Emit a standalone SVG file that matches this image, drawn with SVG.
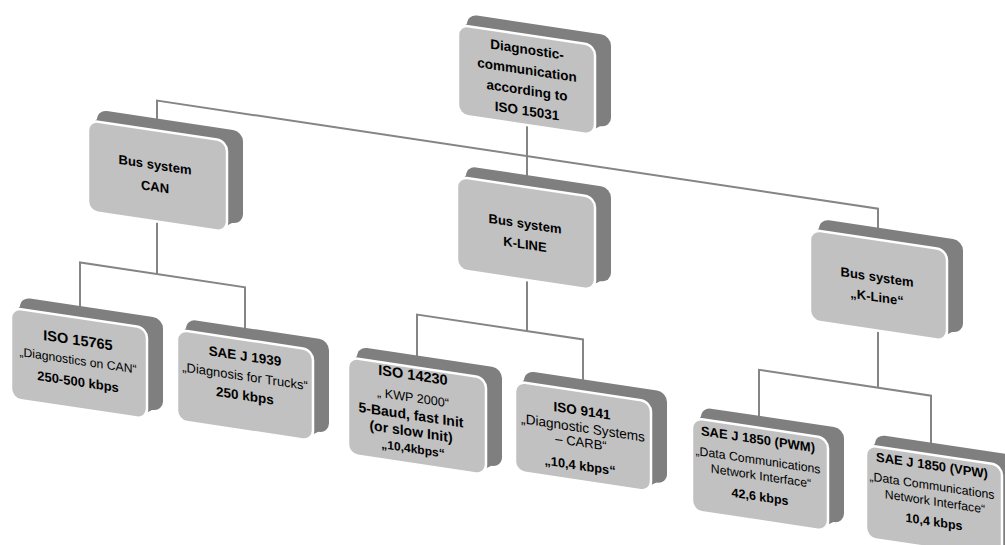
<svg xmlns="http://www.w3.org/2000/svg" width="1005" height="545" viewBox="0 0 1005 545">
  <defs>
    <style>
      .conn{fill:none;stroke:#858585;stroke-width:2}
      .back{fill:#7f7f7f}
      .face{fill:#c1c1c1;stroke:#fff;stroke-width:2.5}
      text{font-family:"Liberation Sans",Arial,sans-serif;text-anchor:middle;fill:#000}
      .b{font-weight:bold;font-size:13px}
      .r{font-size:12.5px}
    </style>
  </defs>
  <rect width="1005" height="545" fill="#fff"/>
  <!-- whole chart drawn in a flat frame, then slanted -->
  <g transform="matrix(1 0.15 0 1 0 0)">
    <g id="connectors">
      <path class="conn" d="M527,40 V105"/>
      <path class="conn" d="M157,100 V77 H878 V100"/>
      <path class="conn" d="M157,190 V250.5"/>
      <path class="conn" d="M80,300 V250.5 H245 V300"/>
      <path class="conn" d="M527,195 V252"/>
      <path class="conn" d="M417,300 V252 H583 V300"/>
      <path class="conn" d="M878,195 V256"/>
      <path class="conn" d="M759,308 V256 H931 V308"/>
    </g>

    <g id="n-iso15031">
      <rect class="back" x="467" y="-56" width="144" height="92" rx="10"/>
      <polygon class="back" points="462,-40 471,-52 605,33 591,42"/>
      <rect class="face" x="458" y="-44" width="137" height="90" rx="10"/>
      <text class="b" style="font-size:13.5px" x="527" y="-25">Diagnostic-</text>
      <text class="b" style="font-size:13.5px" x="527" y="-4.5">communication</text>
      <text class="b" style="font-size:13.5px" x="527" y="16">according to</text>
      <text class="b" style="font-size:13.5px" x="527" y="36.5">ISO 15031</text>
    </g>

    <g id="n-can">
      <rect class="back" x="97" y="95" width="146" height="93" rx="10"/>
      <polygon class="back" points="92,111 101,99 237,185 223,194"/>
      <rect class="face" x="88" y="107" width="139" height="91" rx="10"/>
      <text class="b" x="155" y="146">Bus system</text>
      <text class="b" x="155" y="168">CAN</text>
    </g>

    <g id="n-kline">
      <rect class="back" x="466" y="96" width="145" height="95" rx="10"/>
      <polygon class="back" points="461,112 470,100 605,188 591,197"/>
      <rect class="face" x="457" y="108" width="138" height="93" rx="10"/>
      <text class="b" x="525" y="149.5">Bus system</text>
      <text class="b" x="525" y="170">K-LINE</text>
    </g>

    <g id="n-kline2">
      <rect class="back" x="819" y="96" width="144" height="93" rx="10"/>
      <polygon class="back" points="814,112 823,100 957,186 943,195"/>
      <rect class="face" x="810" y="108" width="137" height="91" rx="10"/>
      <text class="b" x="877" y="150">Bus system</text>
      <text class="b" x="877" y="170">„K-Line“</text>
    </g>

    <g id="n-iso15765">
      <rect class="back" x="20" y="294" width="143" height="93" rx="10"/>
      <polygon class="back" points="15,310 24,298 157,384 143,393"/>
      <rect class="face" x="11" y="306" width="136" height="91" rx="10"/>
      <text class="b" style="font-size:14.5px" x="78" y="333.5">ISO 15765</text>
      <text class="r" style="font-size:12.2px" x="78" y="353">„Diagnostics on CAN“</text>
      <text class="b" x="78" y="374.5">250-500 kbps</text>
    </g>

    <g id="n-saej1939">
      <rect class="back" x="186" y="291" width="143" height="93" rx="10"/>
      <polygon class="back" points="181,307 190,295 323,381 309,390"/>
      <rect class="face" x="177" y="303" width="136" height="91" rx="10"/>
      <text class="b" style="font-size:13.5px" x="245" y="324">SAE J 1939</text>
      <text class="r" style="font-size:12.9px" x="245" y="344">„Diagnosis for Trucks“</text>
      <text class="b" style="font-size:13.5px" x="245" y="363.5">250 kbps</text>
    </g>

    <g id="n-iso14230">
      <rect class="back" x="357" y="293" width="145" height="99" rx="10"/>
      <polygon class="back" points="352,309 361,297 496,389 482,398"/>
      <rect class="face" x="348" y="305" width="138" height="97" rx="10"/>
      <text class="b" style="font-size:14.5px" x="413" y="318">ISO 14230</text>
      <text class="r" style="font-size:12.6px" x="413" y="340">„ KWP 2000“</text>
      <text class="b" style="font-size:14px" x="411" y="358">5-Baud, fast Init</text>
      <text class="b" style="font-size:14px" x="411" y="374.5">(or slow Init)</text>
      <text class="b" style="font-size:12px" x="413" y="391">„10,4kbps“</text>
    </g>

    <g id="n-iso9141">
      <rect class="back" x="524" y="292" width="143" height="92" rx="10"/>
      <polygon class="back" points="519,308 528,296 661,381 647,390"/>
      <rect class="face" x="515" y="304" width="136" height="90" rx="10"/>
      <text class="b" style="font-size:13.5px" x="582" y="328">ISO 9141</text>
      <text class="r" style="font-size:13.6px" x="583" y="345">„Diagnostic Systems</text>
      <text class="r" style="font-size:13px" x="581" y="359.5">– CARB“</text>
      <text class="b" style="font-size:12.8px" x="580" y="383">„10,4 kbps“</text>
    </g>

    <g id="n-saej1850pwm">
      <rect class="back" x="701" y="302" width="143" height="95" rx="10"/>
      <polygon class="back" points="696,318 705,306 838,394 824,403"/>
      <rect class="face" x="692" y="314" width="136" height="93" rx="10"/>
      <text class="b" x="758" y="330">SAE J 1850 (PWM)</text>
      <text class="r" style="font-size:12.3px" x="758" y="350.5">„Data Communications</text>
      <text class="r" style="font-size:12.3px" x="761" y="366">Network Interface“</text>
      <text class="b" style="font-size:12.5px" x="760" y="387">42,6 kbps</text>
    </g>

    <g id="n-saej1850vpw">
      <rect class="back" x="875" y="303" width="143" height="95" rx="10"/>
      <polygon class="back" points="870,319 879,307 1012,395 998,404"/>
      <rect class="face" x="866" y="315" width="136" height="93" rx="10"/>
      <text class="b" x="932" y="330">SAE J 1850 (VPW)</text>
      <text class="r" style="font-size:12.3px" x="932" y="350">„Data Communications</text>
      <text class="r" style="font-size:12.3px" x="935" y="365.5">Network Interface“</text>
      <text class="b" style="font-size:12.5px" x="934" y="386">10,4 kbps</text>
    </g>
  </g>
</svg>
